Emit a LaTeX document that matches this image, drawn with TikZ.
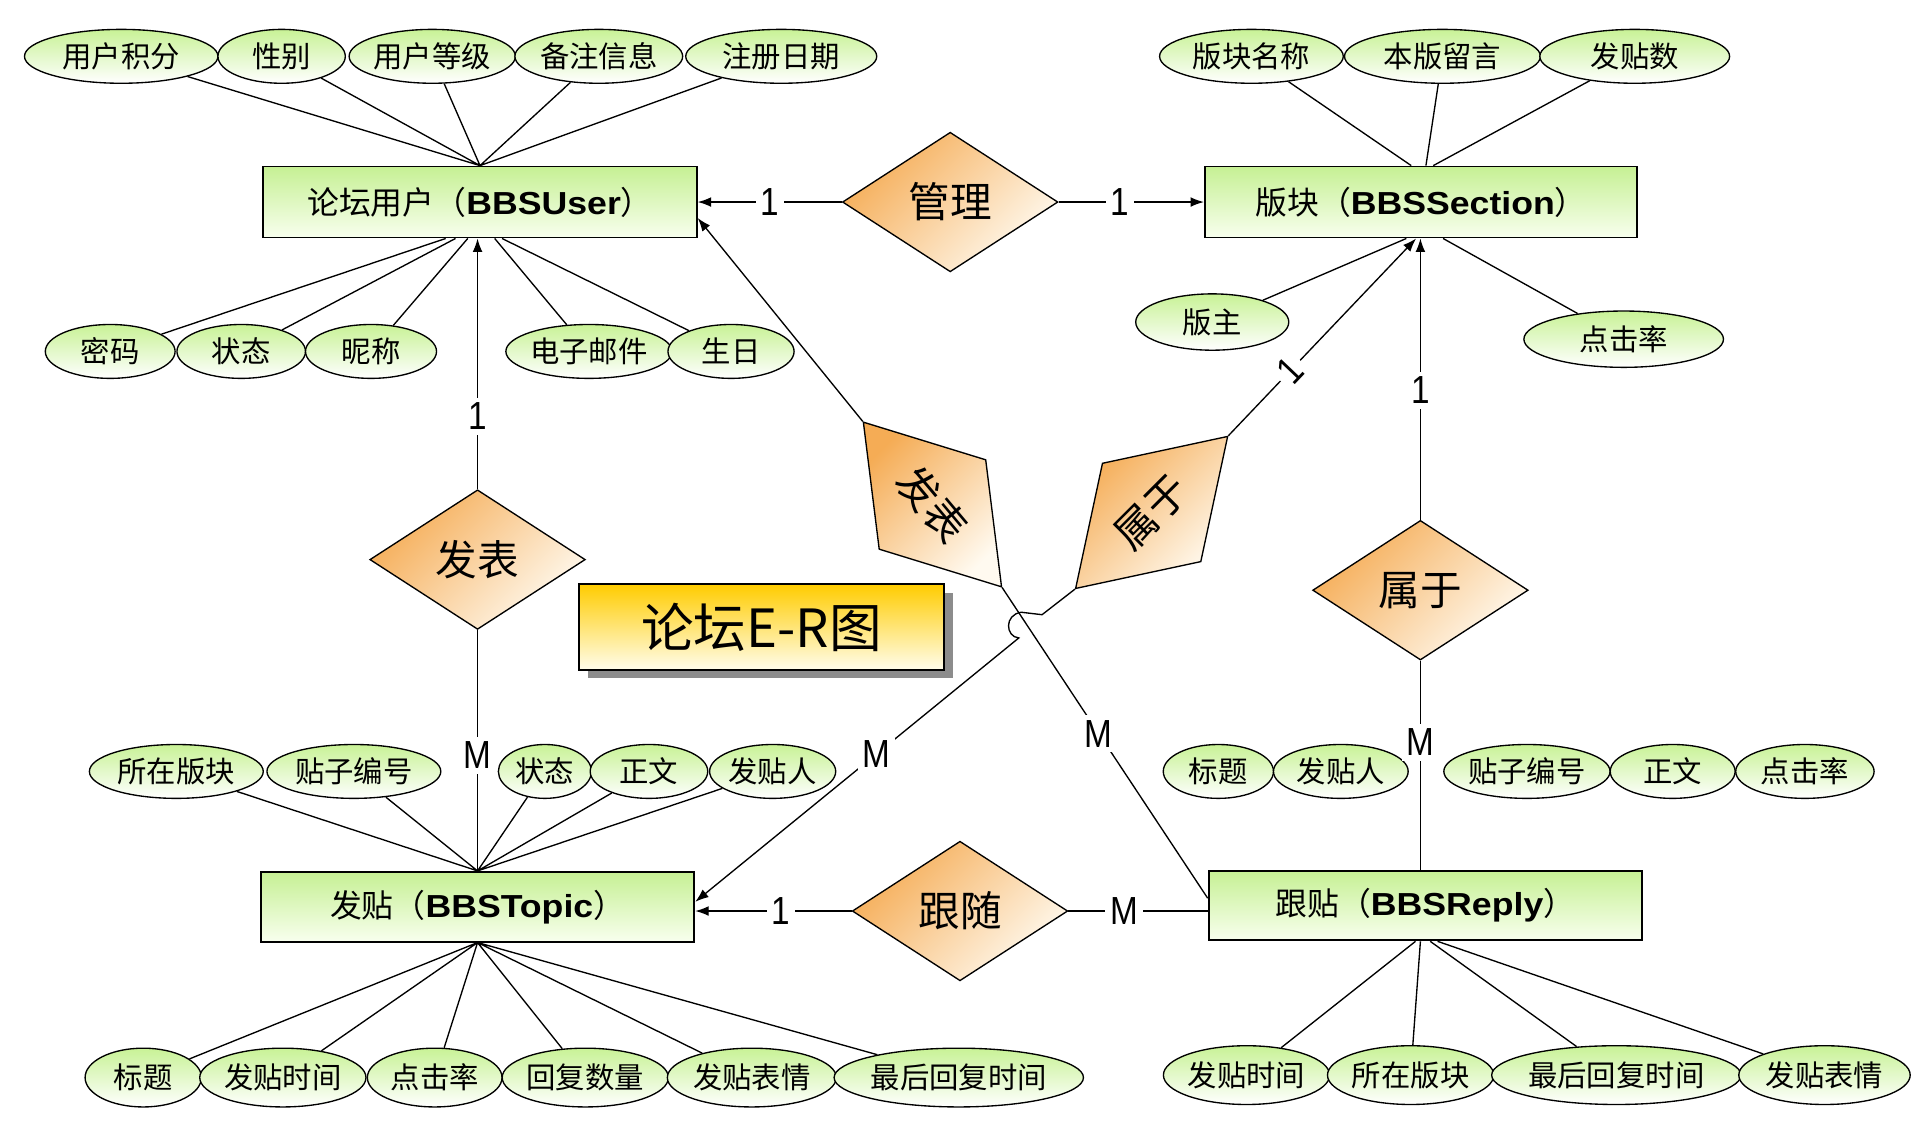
\documentclass[tikz,border=0pt]{standalone}
\usepackage{fontspec}
\setmainfont{Liberation Sans}
\newfontfamily\cjk{Noto Sans CJK SC}
\newfontfamily\enfont[FakeStretch=1.12]{Liberation Sans}
\newfontfamily\narrowfont[FakeStretch=0.85]{Liberation Sans}
\usepackage{tikz}
\usetikzlibrary{arrows.meta}
\usetikzlibrary{shapes.geometric}
\usetikzlibrary{shadows}
\usepackage{xcolor}
\definecolor{boxtop}{RGB}{198,240,148}
\definecolor{boxbot}{RGB}{248,255,238}
\definecolor{attrtop}{RGB}{200,242,150}
\definecolor{reltop}{RGB}{245,172,85}
\definecolor{relbot}{RGB}{255,250,240}
\definecolor{titletop}{RGB}{255,204,0}
\definecolor{titlebot}{RGB}{255,253,236}
\newcommand{\entname}[2]{{\cjk #1（}{\enfont\bfseries #2}{\cjk ）}}
\tikzset{
  entity/.style={draw,line width=1.5pt,rectangle,minimum width=354pt,minimum height=58pt,
    top color=boxtop,bottom color=boxbot,font=\fontsize{26pt}{28pt}\selectfont},
  attr/.style={draw,line width=1.1pt,ellipse,inner xsep=0pt,inner ysep=0pt,minimum height=44pt,
    top color=attrtop,bottom color=white,font=\fontsize{24pt}{26pt}\selectfont\cjk},
  relation/.style={draw,line width=1.1pt,diamond,aspect=1.5,inner sep=0pt,minimum width=176pt,
    minimum height=114pt,top color=reltop,bottom color=relbot,shading angle=45,
    font=\fontsize{34pt}{36pt}\selectfont\cjk},
  card/.style={fill=white,inner sep=4pt,font=\fontsize{32pt}{34pt}\selectfont\narrowfont},
  link/.style={line width=1.1pt},
  arrowlink/.style={line width=1.1pt,-{Latex[length=11pt,width=8pt]}},
}
\begin{document}
\begin{tikzpicture}[x=1pt,y=-1pt]
\useasboundingbox (0,0) rectangle (1568,920);
\node[entity] (user) at (392,165) {\entname{论坛用户}{BBSUser}};
\node[entity,minimum width=353pt] (section) at (1160.5,165) {\entname{版块}{BBSSection}};
\node[entity,minimum height=57pt] (topic) at (390,740.5) {\entname{发贴}{BBSTopic}};
\node[entity,minimum height=57pt] (reply) at (1164,739.5) {\entname{跟贴}{BBSReply}};

\node[relation] (gl) at (776,165) {管理};
\node[relation] (ftu) at (390,457) {发表};
\node[relation] (gs) at (784,744) {跟随};
\node[relation] (sh) at (1160,482) {属于};
\node[relation,rotate=-50] (fb) at (761.5,412) {发表};
\node[relation,rotate=45] (sb) at (940.5,418.5) {属于};

\node[draw,line width=2pt,minimum width=298pt,minimum height=70pt,top color=titletop,bottom color=titlebot,
  drop shadow={shadow xshift=7pt,shadow yshift=-7pt,fill=black!45,opacity=1},
  font=\fontsize{43pt}{46pt}\selectfont\cjk] (title) at (622,512) {论坛E-R图};

\node[attr,minimum width=158pt] (ua1) at (99,46) {用户积分};
\node[attr,minimum width=104pt] (ua2) at (230,46) {性别};
\node[attr,minimum width=133pt] (ua3) at (353,46) {用户等级};
\node[attr,minimum width=137pt] (ua4) at (489,46) {备注信息};
\node[attr,minimum width=156pt] (ua5) at (638,46) {注册日期};
\node[attr,minimum width=106pt] (ub1) at (90,287) {密码};
\node[attr,minimum width=105pt] (ub2) at (197,287) {状态};
\node[attr,minimum width=107pt] (ub3) at (303,287) {昵称};
\node[attr,minimum width=128pt] (ub4) at (481,287) {电子邮件};
\node[attr,minimum width=103pt] (ub5) at (597,287) {生日};

\node[attr,minimum width=150pt] (sa1) at (1022,46) {版块名称};
\node[attr,minimum width=160pt] (sa2) at (1178,46) {本版留言};
\node[attr,minimum width=155pt] (sa3) at (1335,46) {发贴数};
\node[attr,minimum width=125pt,minimum height=46pt] (sb1) at (990,263) {版主};
\node[attr,minimum width=163pt,minimum height=46pt] (sb2) at (1326,277) {点击率};

\node[attr,minimum width=142pt] (ta1) at (144,630) {所在版块};
\node[attr,minimum width=142pt] (ta2) at (289,630) {贴子编号};
\node[attr,minimum width=76pt] (ta3) at (445,630) {状态};
\node[attr,minimum width=96pt] (ta4) at (530,630) {正文};
\node[attr,minimum width=103pt] (ta5) at (631,630) {发贴人};
\node[attr,minimum width=95pt,minimum height=48pt] (tb1) at (117,880) {标题};
\node[attr,minimum width=132pt,minimum height=48pt] (tb2) at (231,880) {发贴时间};
\node[attr,minimum width=110pt,minimum height=48pt] (tb3) at (355,880) {点击率};
\node[attr,minimum width=133pt,minimum height=48pt] (tb4) at (478,880) {回复数量};
\node[attr,minimum width=138pt,minimum height=48pt] (tb5) at (614,880) {发贴表情};
\node[attr,minimum width=197pt,minimum height=48pt] (tb6) at (783,880) {最后回复时间};

\node[attr,minimum width=90pt] (ra1) at (995,630) {标题};
\node[attr,minimum width=110pt] (ra2) at (1095,630) {发贴人};
\node[attr,minimum width=135pt] (ra3) at (1247,630) {贴子编号};
\node[attr,minimum width=102pt] (ra4) at (1366,630) {正文};
\node[attr,minimum width=113pt] (ra5) at (1474,630) {点击率};
\node[attr,minimum width=135pt,minimum height=48pt] (rb1) at (1018,878) {发贴时间};
\node[attr,minimum width=135pt,minimum height=48pt] (rb2) at (1152,878) {所在版块};
\node[attr,minimum width=200pt,minimum height=48pt] (rb3) at (1320,878) {最后回复时间};
\node[attr,minimum width=140pt,minimum height=48pt] (rb4) at (1490,878) {发贴表情};

\draw[link] (ua1) -- (user.north) (ua2) -- (user.north) (ua3) -- (user.north)
  (ua4) -- (user.north) (ua5) -- (user.north);
\draw[link] (ub1) -- ([xshift=-28pt]user.south) (ub2) -- ([xshift=-20pt]user.south)
  (ub3) -- ([xshift=-10pt]user.south) (ub4) -- ([xshift=12pt]user.south) (ub5) -- ([xshift=18pt]user.south);
\draw[link] (sa1) -- ([xshift=-8pt]section.north) (sa2) -- ([xshift=4pt]section.north)
  (sa3) -- ([xshift=10pt]section.north);
\draw[link] (sb1) -- ([xshift=-12pt]section.south) (sb2) -- ([xshift=18pt]section.south);
\draw[link] (ta1) -- (topic.north) (ta2) -- (topic.north) (ta3) -- (topic.north)
  (ta4) -- (topic.north) (ta5) -- (topic.north);
\draw[link] (tb1) -- (topic.south) (tb2) -- (topic.south) (tb3) -- (topic.south)
  (tb4) -- (topic.south) (tb5) -- (topic.south) (tb6) -- (topic.south);
\draw[link] (rb1) -- ([xshift=-8pt]reply.south) (rb2) -- ([xshift=-4pt]reply.south)
  (rb3) -- ([xshift=4pt]reply.south) (rb4) -- ([xshift=10pt]reply.south);

\draw[arrowlink] (gl.west) -- node[card,pos=0.5]{1} (gl.west -| user.east);
\draw[arrowlink] (gl.east) -- node[card,pos=0.42]{1} (gl.east -| section.west);
\draw[arrowlink] (ftu.north) -- node[card,pos=0.29]{1} (ftu.north |- user.south);
\draw[link] (ftu.south) -- node[card,pos=0.52]{M} (ftu.south |- topic.north);
\draw[arrowlink] (gs.west) -- node[card,pos=0.45]{1} (gs.west -| topic.east);
\draw[link] (gs.east) -- node[card,pos=0.4]{M} (gs.east -| reply.west);
\draw[arrowlink] (sh.north) -- node[card,pos=0.46]{1} (sh.north |- section.south);
\draw[link] (sh.south) -- node[card,pos=0.39]{M} (sh.south |- reply.north);
\draw[arrowlink] (fb.west) -- ([yshift=-13pt]user.east);
\draw[link] (fb.east) -- node[card,pos=0.47]{M} ([yshift=6pt]reply.west);
\draw[arrowlink] (sb.east) -- node[card,sloped,pos=0.33]{1} ([xshift=-4pt]section.south);
\coordinate (bend) at (851,502);
\coordinate (hopin) at (834,500);
\coordinate (hopout) at (832,521);
\draw[arrowlink] (sb.west) -- (bend) -- (hopin) .. controls (820,502) and (821,520) .. (hopout)
  -- node[card,pos=0.44]{M} ([yshift=4pt]topic.east);
\end{tikzpicture}
\end{document}
